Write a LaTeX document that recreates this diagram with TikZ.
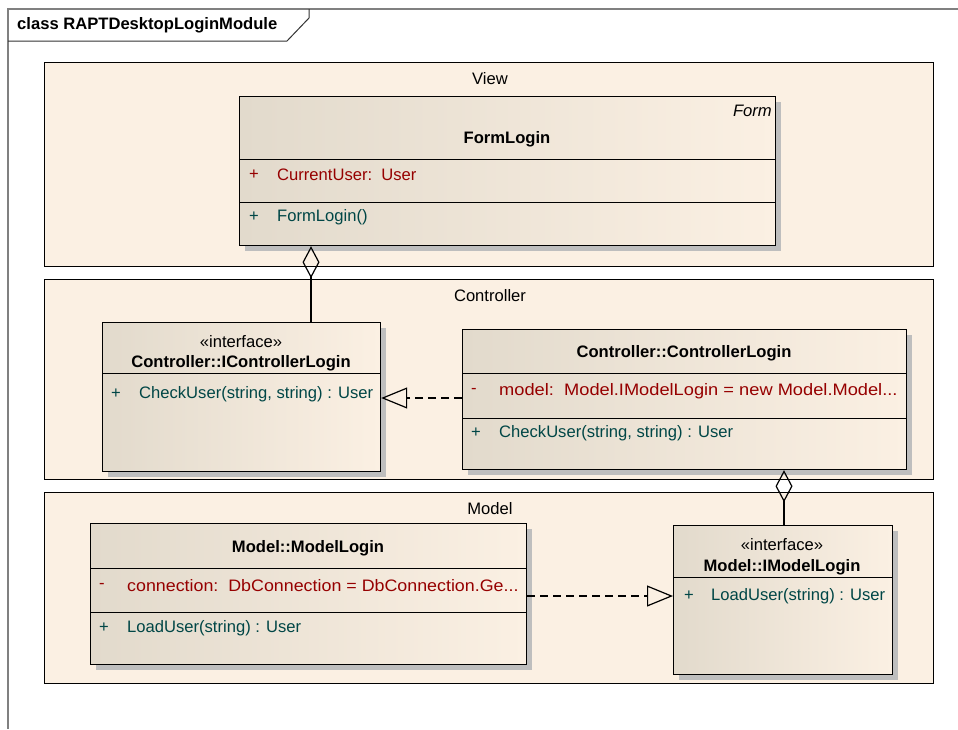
\documentclass[tikz,border=0pt]{standalone}
\usepackage{graphicx}
\usepackage{fontspec}
\setmainfont{Liberation Sans}
\usetikzlibrary{arrows.meta,shadows}

\definecolor{frameGray}{RGB}{128,128,128}
\definecolor{pkgFill}{RGB}{251,240,227}
\definecolor{clsDark}{RGB}{226,218,204}
\definecolor{clsLight}{RGB}{251,240,227}
\definecolor{shadowGray}{RGB}{190,190,190}
\definecolor{attrRed}{RGB}{150,0,0}
\definecolor{opTeal}{RGB}{0,70,70}

\tikzset{
  every node/.style={font=\fontsize{16.6}{20}\selectfont, inner sep=0pt},
  package/.style={draw=black, line width=1.3pt, fill=pkgFill, anchor=north west},
  classbox/.style={draw=black, line width=1.2pt, anchor=north west,
    left color=clsDark, right color=clsLight,
    drop shadow={shadow xshift=5pt, shadow yshift=-5pt, fill=shadowGray, opacity=1}},
  divider/.style={draw=black, line width=1pt},
  pkglabel/.style={text=black},
  clsname/.style={font=\fontsize{16.6}{20}\selectfont\bfseries},
  attr/.style={anchor=west, text=attrRed},
  oper/.style={anchor=west, text=opTeal},
  aggr/.style={draw=black, line width=1.2pt,
    {Diamond[open, length=32pt, width=17pt]}-},
  realize/.style={draw=black, line width=1.2pt, dash pattern=on 8pt off 5pt,
    -{Triangle[open, length=26pt, width=21pt]}},
}

\begin{document}
\begin{tikzpicture}[x=1pt, y=-1pt]
  \useasboundingbox (0,0) rectangle (958,729);
  \fill[white] (0,0) rectangle (958,729);

  % diagram frame with its name tab
  \draw[frameGray, line width=1.3pt] (958,9) -- (8,9) -- (8,729);
  \draw[black!80, line width=1pt] (8,41) -- (287,41) -- (309,18) -- (309,9);
  \node[anchor=west, clsname] (frameTitle) at (17,25) {class RAPTDesktopLoginModule};

  % packages
  \node[package, minimum width=889pt, minimum height=204pt] (viewPkg) at (44,62) {};
  \node[package, minimum width=889pt, minimum height=200pt] (ctrlPkg) at (44,279) {};
  \node[package, minimum width=889pt, minimum height=191pt] (modelPkg) at (44,492) {};
  \node[pkglabel] (viewLbl) at (490,79) {View};
  \node[pkglabel] (ctrlLbl) at (490,296) {Controller};
  \node[pkglabel] (modelLbl) at (490,509) {Model};

  % FormLogin
  \node[classbox, minimum width=536pt, minimum height=149pt] (formLogin) at (239,96) {};
  \draw[divider] (239,159) -- (775,159);
  \draw[divider] (239,202) -- (775,202);
  \node[anchor=east, font=\fontsize{16.6}{20}\selectfont\itshape] (formStereo) at (772,111) {Form};
  \node[clsname] (formName) at (507,139) {FormLogin};
  \node[attr] (formAttrVis) at (249,175) {+};
  \node[attr] (formAttr) at (277,175) {CurrentUser:\ \ User};
  \node[oper] (formOpVis) at (249,217) {+};
  \node[oper] (formOp) at (277,217) {FormLogin()};

  % Controller::IControllerLogin
  \node[classbox, minimum width=278pt, minimum height=149pt] (iCtrl) at (102,322) {};
  \draw[divider] (102,373) -- (380,373);
  \node (iCtrlStereo) at (241,342) {«interface»};
  \node[clsname] (iCtrlName) at (241,363) {Controller::IControllerLogin};
  \node[oper] (iCtrlOpVis) at (111,394) {+};
  \node[oper] (iCtrlOp) at (139,394) {CheckUser(string, string) : User};

  % Controller::ControllerLogin
  \node[classbox, minimum width=444pt, minimum height=140pt] (ctrlLogin) at (462,329) {};
  \draw[divider] (462,373) -- (906,373);
  \draw[divider] (462,418) -- (906,418);
  \node[clsname] (ctrlName) at (684,353) {Controller::ControllerLogin};
  \node[attr] (ctrlAttrVis) at (471,391) {-};
  \node[attr] (ctrlAttr) at (499,391) {\scalebox{1.1}[1]{model:\ \ Model.IModelLogin = new Model.Model...}};
  \node[oper] (ctrlOpVis) at (471,433) {+};
  \node[oper] (ctrlOp) at (499,433) {CheckUser(string, string) : User};

  % Model::ModelLogin
  \node[classbox, minimum width=436pt, minimum height=141pt] (modelLogin) at (90,523) {};
  \draw[divider] (90,568) -- (526,568);
  \draw[divider] (90,612) -- (526,612);
  \node[clsname] (modelName) at (308,548) {Model::ModelLogin};
  \node[attr] (modelAttrVis) at (99,586) {-};
  \node[attr] (modelAttr) at (127,586) {\scalebox{1.075}[1]{connection:\ \ DbConnection = DbConnection.Ge...}};
  \node[oper] (modelOpVis) at (99,628) {+};
  \node[oper] (modelOp) at (127,628) {LoadUser(string) : User};

  % Model::IModelLogin
  \node[classbox, minimum width=219pt, minimum height=149pt] (iModel) at (673,525) {};
  \draw[divider] (673,577) -- (892,577);
  \node (iModelStereo) at (782,545) {«interface»};
  \node[clsname] (iModelName) at (782,567) {Model::IModelLogin};
  \node[oper] (iModelOpVis) at (684,596) {+};
  \node[oper] (iModelOp) at (711,596) {LoadUser(string) : User};

  % relationships
  \draw[aggr] (311,0 |- formLogin.south) -- (311,0 |- iCtrl.north);
  \draw[aggr] (784,0 |- ctrlLogin.south) -- (784,0 |- iModel.north);
  \draw[realize] (ctrlLogin.west |- 0,398) -- (iCtrl.east |- 0,398);
  \draw[realize] (modelLogin.east |- 0,596) -- (iModel.west |- 0,596);
\end{tikzpicture}
\end{document}
